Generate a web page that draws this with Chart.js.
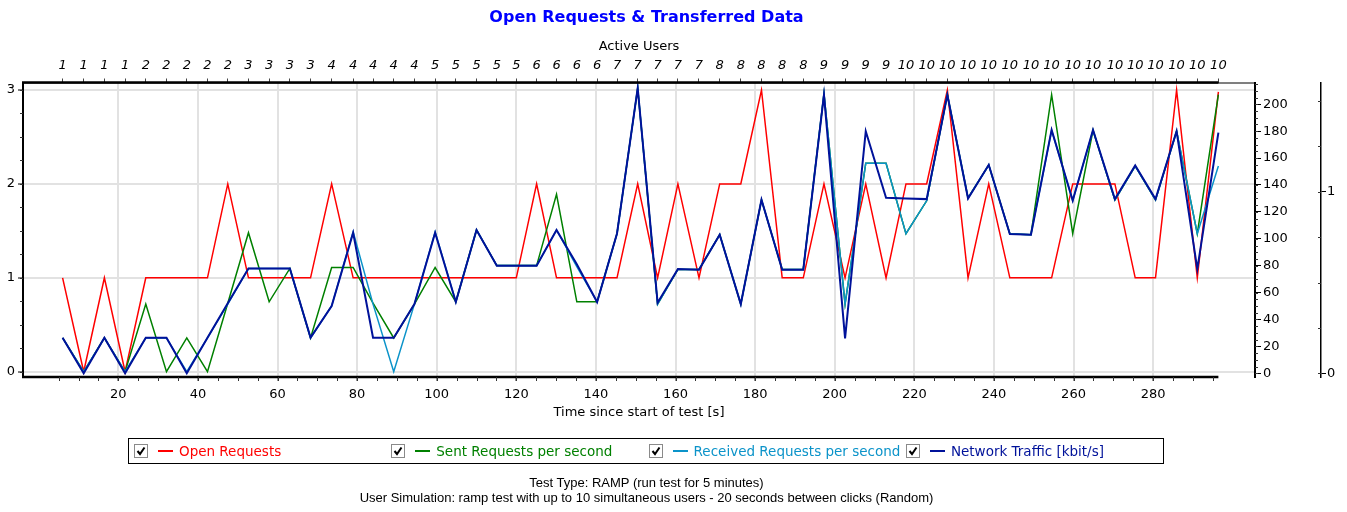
<!DOCTYPE html>
<html>
<head>
<meta charset="utf-8">
<title>Open Requests &amp; Transferred Data</title>
<script src="https://cdn.jsdelivr.net/npm/chart.js@4.4.1/dist/chart.umd.min.js"></script>
<style>
  html, body { margin: 0; padding: 0; background: #fff; }
  #wrap { position: relative; width: 1347px; height: 512px; overflow: hidden; font-family: 'DejaVu Sans', sans-serif; }
  #c { position: absolute; left: 0; top: 0; }
  #title { position: absolute; left: 0; top: 8px; width: 1293px; text-align: center; font-weight: bold; font-size: 16px; line-height: 18px; color: #0000ff; }
  #legend { position: absolute; left: 128px; top: 438px; width: 1036px; height: 26px; border: 1px solid #000; box-sizing: border-box; }
  #legend .item { position: absolute; top: 0; height: 24px; }
  #legend svg { position: absolute; left: 0; top: 5px; }
  #legend .dash { position: absolute; left: 24px; top: 11px; width: 15px; height: 2px; }
  #legend .lbl { position: absolute; left: 45px; top: 0; line-height: 24px; font-size: 13.5px; white-space: nowrap; }
  #footer { position: absolute; left: 0; top: 475px; width: 1293px; text-align: center; font-family: 'Liberation Sans', Arial, sans-serif; font-size: 13px; line-height: 15px; color: #000; }
</style>
</head>
<body>
<div id="wrap">
  <canvas id="c" width="1347" height="512"></canvas>
  <div id="title">Open Requests &amp; Transferred Data</div>
  <div id="legend"></div>
  <div id="footer">Test Type: RAMP (run test for 5 minutes)<br>User Simulation: ramp test with up to 10 simultaneous users - 20 seconds between clicks (Random)</div>
</div>
<script>
// sample times [s]
const times = [
  6.0, 11.3, 16.5, 21.7, 26.9, 32.1, 37.2, 42.4, 47.5, 52.7,
  57.9, 63.1, 68.3, 73.6, 79.0, 84.0, 89.2, 94.4, 99.6, 104.8,
  110.0, 115.1, 120.0, 125.1, 130.1, 135.2, 140.3, 145.3, 150.5, 155.5,
  160.6, 165.9, 171.1, 176.4, 181.6, 186.8, 192.1, 197.3, 202.6, 207.8,
  212.9, 217.9, 223.1, 228.3, 233.5, 238.7, 244.0, 249.3, 254.5, 259.8,
  264.9, 270.4, 275.5, 280.6, 285.9, 291.1, 296.4
];
const activeUsers = [
  1, 1, 1, 1, 2, 2, 2, 2, 2, 3, 3, 3, 3, 4, 4, 4, 4, 4, 5, 5,
  5, 5, 5, 6, 6, 6, 6, 7, 7, 7, 7, 7, 8, 8, 8, 8, 8, 9, 9, 9,
  9, 10, 10, 10, 10, 10, 10, 10, 10, 10, 10, 10, 10, 10, 10, 10, 10
];
const openRequests = [
  1, 0, 1, 0, 1, 1, 1, 1, 2, 1,
  1, 1, 1, 2, 1, 1, 1, 1, 1, 1,
  1, 1, 1, 2, 1, 1, 1, 1, 2, 1,
  2, 1, 2, 2, 3, 1, 1, 2, 1, 2,
  1, 2, 2, 3, 1, 2, 1, 1, 1, 2,
  2, 2, 1, 1, 3, 1, 2.98
];
const sentRequests = [
  0.36, 0, 0.36, 0, 0.72, 0, 0.36, 0, 0.73, 1.48,
  0.745, 1.10, 0.36, 1.11, 1.11, 0.73, 0.36, 0.72, 1.11, 0.745,
  1.51, 1.13, 1.13, 1.13, 1.89, 0.745, 0.745, 1.47, 3.02, 0.72,
  1.09, 1.09, 1.46, 0.72, 1.83, 1.09, 1.09, 2.96, 0.72, 2.22,
  2.22, 1.47, 1.82, 2.95, 1.85, 2.20, 1.47, 1.46, 2.95, 1.47,
  2.57, 1.83, 2.19, 1.83, 2.56, 1.47, 2.95
];
const receivedRequests = [
  0.36, 0, 0.36, 0, 0.36, 0.36, 0, 0.36, 0.72, 1.10,
  1.10, 1.10, 0.36, 0.70, 1.49, 0.72, 0, 0.72, 1.49, 0.745,
  1.51, 1.13, 1.13, 1.13, 1.51, 1.12, 0.745, 1.47, 3.02, 0.72,
  1.09, 1.09, 1.46, 0.72, 1.83, 1.09, 1.09, 2.96, 0.72, 2.22,
  2.22, 1.47, 1.82, 2.95, 1.85, 2.20, 1.47, 1.46, 2.57, 1.82,
  2.57, 1.83, 2.19, 1.83, 2.56, 1.47, 2.19
];
const networkTraffic = [
  26.5, 0, 26.5, 0, 26.5, 26.5, 0, 26.5, 52, 78,
  78, 78, 26.5, 50, 104.5, 26.5, 26.5, 51.5, 104.5, 53,
  106.5, 80, 80, 80, 106.5, 81, 53, 104, 212, 52.5,
  77.5, 77, 103, 51.5, 129, 77, 77, 207, 26, 180,
  130.5, 130, 129.5, 207, 130, 155, 103.5, 103, 181, 128.5,
  181, 129.5, 154.5, 129.5, 180, 77.5, 179
];
const timeTicks = [20, 40, 60, 80, 100, 120, 140, 160, 180, 200, 220, 240, 260, 280];
const requestTicks = [0, 1, 2, 3];
const trafficTicks = [0, 20, 40, 60, 80, 100, 120, 140, 160, 180, 200];
const extraTicks = [0, 1];

const seriesNames = ['Open Requests', 'Sent Requests per second', 'Received Requests per second', 'Network Traffic [kbit/s]'];
const seriesColors = ['#ff0000', '#008000', '#0b93c9', '#00129a'];
const seriesValues = [openRequests, sentRequests, receivedRequests, networkTraffic];

// legend (html)
const legend = document.getElementById('legend');
seriesNames.forEach((name, i) => {
  const item = document.createElement('div');
  item.className = 'item';
  item.style.left = (5 + i * 257.3) + 'px';
  item.innerHTML =
    '<svg width="14" height="14"><rect x="0.5" y="0.5" width="13" height="13" fill="#fff" stroke="#8a8a8a"/>' +
    '<polyline points="3.5,7 6,10 10.5,3.5" fill="none" stroke="#000" stroke-width="2"/></svg>' +
    '<span class="dash" style="background:' + seriesColors[i] + '"></span>' +
    '<span class="lbl" style="color:' + seriesColors[i] + '">' + name + '</span>';
  legend.appendChild(item);
});

const font13 = { family: "'DejaVu Sans', sans-serif", size: 13 };

const datasets = seriesValues.map((vals, i) => ({
  label: seriesNames[i],
  data: times.map((t, k) => ({ x: t, y: vals[k] })),
  borderColor: seriesColors[i],
  borderWidth: i === 3 ? 2 : 1.5,
  yAxisID: i === 3 ? 'y1' : 'y',
  order: 3 - i
}));

// thick axis lines up to the last sample + minor ticks
const axisDecor = {
  id: 'axisDecor',
  afterDraw(chart) {
    const { ctx, chartArea: a, scales } = chart;
    const xEnd = scales.x.getPixelForValue(times[times.length - 1]);
    ctx.save();
    ctx.strokeStyle = '#000';
    ctx.lineWidth = 1;
    ctx.beginPath();
    ctx.moveTo(a.left, a.top + 0.5);
    ctx.lineTo(a.right, a.top + 0.5);
    ctx.stroke();
    ctx.lineWidth = 2.5;
    [a.top, a.bottom].forEach(y => {
      ctx.beginPath();
      ctx.moveTo(a.left - 1, y);
      ctx.lineTo(xEnd, y);
      ctx.stroke();
    });
    ctx.lineWidth = 1;
    ctx.strokeStyle = '#333';
    const tick = (x1, y1, x2, y2) => { ctx.beginPath(); ctx.moveTo(x1, y1); ctx.lineTo(x2, y2); ctx.stroke(); };
    for (let v = 5; v <= 295; v += 5) {
      const px = Math.round(scales.x.getPixelForValue(v)) + 0.5;
      tick(px, a.bottom, px, a.bottom + 4);
    }
    for (let v = 0; v <= 3; v += 0.25) {
      const py = Math.round(scales.y.getPixelForValue(v)) + 0.5;
      tick(a.left - 3, py, a.left, py);
    }
    for (let v = 0; v <= 215; v += 5) {
      const py = Math.round(scales.y1.getPixelForValue(v)) + 0.5;
      tick(a.right, py, a.right + 3, py);
    }
    const x2 = scales.y2.left;
    for (let v = 0; v <= 1.5; v += 0.25) {
      const py = Math.round(scales.y2.getPixelForValue(v)) + 0.5;
      tick(x2 - 3, py, x2, py);
    }
    ctx.restore();
  }
};

const setTicks = arr => scale => { scale.ticks = arr.map(v => ({ value: v })); };

new Chart(document.getElementById('c'), {
  type: 'line',
  data: { datasets },
  options: {
    responsive: false,
    animation: false,
    events: [],
    layout: { padding: { left: 0, right: 0, top: 0, bottom: 90 } },
    elements: { point: { radius: 0 }, line: { tension: 0 } },
    plugins: { legend: { display: false }, title: { display: false }, tooltip: { enabled: false } },
    scales: {
      x: {
        type: 'linear', position: 'bottom', min: -3.95, max: 305.6,
        afterBuildTicks: setTicks(timeTicks),
        afterFit: s => { s.height = 45; },
        ticks: { color: '#000', font: font13, padding: 6, maxRotation: 0, autoSkip: false },
        grid: { color: '#e2e2e2', lineWidth: 2, tickLength: 4, tickColor: '#333', tickWidth: 1 },
        border: { display: false },
        title: { display: true, text: 'Time since start of test [s]', color: '#000', font: font13, padding: { top: 0, bottom: 2 } }
      },
      x2: {
        type: 'linear', position: 'top', min: -3.95, max: 305.6,
        afterBuildTicks: setTicks(times),
        afterFit: s => { s.height = 82.5; },
        ticks: {
          color: '#000', font: { ...font13, style: 'italic' }, padding: 5, maxRotation: 0, autoSkip: false,
          callback: (v, i) => String(activeUsers[i])
        },
        grid: { drawOnChartArea: false, tickLength: 4, tickColor: '#444', tickWidth: 1 },
        border: { display: false },
        title: { display: true, text: 'Active Users', color: '#000', font: font13, padding: { top: 39, bottom: 0 } }
      },
      y: {
        position: 'left', min: -0.056, max: 3.08,
        afterBuildTicks: setTicks(requestTicks),
        afterFit: s => { s.width = 23; },
        ticks: { color: '#000', font: font13, padding: 3 },
        grid: { color: '#e2e2e2', lineWidth: 2, tickLength: 5, tickColor: '#000', tickWidth: 1 },
        border: { color: '#000', width: 2 }
      },
      y1: {
        position: 'right', weight: 0, min: -2.75, max: 216.2,
        afterBuildTicks: setTicks(trafficTicks),
        afterFit: s => { s.width = 66; },
        ticks: { color: '#000', font: font13, padding: 2 },
        grid: { drawOnChartArea: false, tickLength: 6, tickColor: '#000', tickWidth: 1 },
        border: { color: '#000', width: 2 }
      },
      y2: {
        position: 'right', weight: 1, min: -0.02, max: 1.601,
        afterBuildTicks: setTicks(extraTicks),
        afterFit: s => { s.width = 26; },
        ticks: { color: '#000', font: font13, padding: 1 },
        grid: { drawOnChartArea: false, tickLength: 5, tickColor: '#000', tickWidth: 1 },
        border: { color: '#000', width: 1.5 }
      }
    }
  },
  plugins: [axisDecor]
});
</script>
</body>
</html>
